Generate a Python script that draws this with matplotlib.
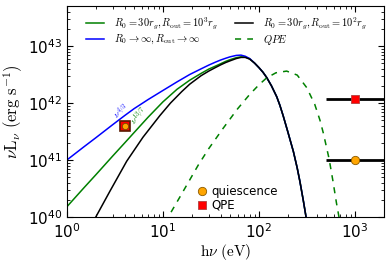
import numpy as np
import matplotlib
matplotlib.use("Agg")
import matplotlib.pyplot as plt

# energies (eV) and log10 nuLnu (erg/s)
E_inf = [1, 1.5, 2, 3, 4, 5, 7, 10, 14, 19, 25, 30, 35, 40, 45, 50, 58, 65, 72, 80,
         90, 100, 110, 120, 135, 153, 165, 179, 200, 228, 250, 267, 290, 309, 320]
L_inf = [41.0, 41.23, 41.39, 41.62, 41.78, 41.90, 42.06, 42.22, 42.37, 42.50, 42.60,
         42.665, 42.715, 42.755, 42.785, 42.81, 42.835, 42.84, 42.82, 42.78,
         42.70, 42.62, 42.54, 42.45, 42.30, 42.11, 41.96, 41.77, 41.49, 41.15,
         40.86, 40.62, 40.28, 40.0, 39.83]

E_1e3 = [1, 1.5, 2, 3, 4, 5, 7, 10, 14, 19, 25, 30, 35, 40, 45, 50, 58, 65, 72, 80,
         90, 100, 110, 120, 135, 153, 165, 179, 200, 228, 250, 267, 290, 309, 320]
L_1e3 = [40.18, 40.51, 40.74, 41.07, 41.30, 41.48, 41.75, 42.02, 42.24, 42.40, 42.52,
         42.595, 42.645, 42.69, 42.73, 42.76, 42.795, 42.81, 42.805, 42.775,
         42.70, 42.62, 42.54, 42.45, 42.30, 42.11, 41.96, 41.77, 41.49, 41.15,
         40.86, 40.62, 40.28, 40.0, 39.83]

E_1e2 = [1.8, 2.0, 2.8, 4.2, 6.2, 9.3, 12, 15.7, 19, 25, 30, 35, 40, 45, 50, 58, 65,
         72, 80, 90, 100, 110, 120, 135, 153, 165, 179, 200, 228, 250, 267, 290,
         309, 320]
L_1e2 = [39.86, 40.0, 40.45, 40.98, 41.40, 41.78, 42.00, 42.20, 42.33, 42.48, 42.56,
         42.62, 42.67, 42.71, 42.74, 42.78, 42.80, 42.80, 42.77, 42.70, 42.62,
         42.54, 42.45, 42.30, 42.11, 41.96, 41.77, 41.49, 41.15, 40.86, 40.62,
         40.28, 40.0, 39.83]

E_qpe = [10.5, 11.35, 15, 23.3, 30, 42.5, 60, 80, 100, 120, 150, 194, 250, 314,
         380, 431, 468, 537, 589, 640, 684, 720]
L_qpe = [39.9, 40.0, 40.35, 40.91, 41.2, 41.56, 41.90, 42.15, 42.32, 42.44, 42.53,
         42.56, 42.49, 42.27, 41.98, 41.70, 41.47, 41.02, 40.63, 40.25, 39.98, 39.75]

# observed points
E_obs_opt = 4.0
L_obs_opt = 3.9e41
E_xray = 1000.0
E_xray_lo = 500.0
E_xray_hi = 2000.0
L_xray_qui = 1.0e41
L_xray_qpe = 1.17e42

fig = plt.figure(figsize=(3.91, 2.65), dpi=100)
ax = fig.add_axes([0.171, 0.181, 0.811, 0.796])

l1, = ax.plot(E_1e3, 10 ** np.array(L_1e3), color="g", lw=1.1,
              label=r"$R_0=30r_g, R_{\rm out}=10^3r_g$")
l3, = ax.plot(E_inf, 10 ** np.array(L_inf), color="b", lw=1.1,
              label=r"$R_0\rightarrow\infty, R_{\rm out}\rightarrow\infty$")
l2, = ax.plot(E_1e2, 10 ** np.array(L_1e2), color="k", lw=1.1,
              label=r"$R_0=30r_g, R_{\rm out}=10^2r_g$")
l4, = ax.plot(E_qpe, 10 ** np.array(L_qpe), color="g", lw=1.1, ls=(0, (4, 4)),
              label=r"$QPE$")

xerr = [[E_xray - E_xray_lo], [E_xray_hi - E_xray]]
ax.errorbar([E_xray], [L_xray_qpe], xerr=xerr, fmt="none", ecolor="k", elinewidth=2)
ax.errorbar([E_xray], [L_xray_qui], xerr=xerr, fmt="none", ecolor="k", elinewidth=2)

ax.plot([E_obs_opt], [L_obs_opt], "s", color="red", mec="#5a1a00", ms=7, mew=1.2)
ax.plot([E_obs_opt], [L_obs_opt], "o", color="orange", mec="#7a4a00", ms=4.5, mew=0.6)
ax.plot([E_xray], [L_xray_qpe], "s", color="red", mec="#b04040", ms=6, mew=0.6)
ax.plot([E_xray], [L_xray_qui], "o", color="orange", mec="#8a5a00", ms=6, mew=0.6)

ax.set_xscale("log")
ax.set_yscale("log")
ax.set_xlim(1, 2000)
ax.set_ylim(1e40, 10 ** 43.7)
ax.tick_params(which="both", direction="in", top=True, right=True, labelsize=11)
ax.tick_params(which="major", length=4)
ax.tick_params(which="minor", length=2)

ax.set_xlabel(r"$\mathrm{h}\nu\ (\mathrm{eV})$", fontsize=11, math_fontfamily="cm",
              labelpad=1)
ax.set_ylabel(r"$\nu \mathrm{L}_\nu\ (\mathrm{erg\ s}^{-1})$", fontsize=12,
              math_fontfamily="cm", labelpad=2)

ax.text(3.65, 10 ** 41.86, r"$\nu^{4/3}$", color="b", fontsize=6.5, rotation=37,
        ha="center", va="center", math_fontfamily="cm")
ax.text(5.6, 10 ** 41.78, r"$\nu^{13/7}$", color="g", fontsize=6.5, rotation=45,
        ha="center", va="center", math_fontfamily="cm")

leg = ax.legend(handles=[l1, l3, l2, l4], ncol=2, loc="upper left",
                bbox_to_anchor=(0.03, 1.0), frameon=False, fontsize=7.5,
                handlelength=1.8, columnspacing=1.6, handletextpad=0.9,
                labelspacing=0.15)
for t in leg.get_texts():
    t.set_math_fontfamily("cm")
ax.add_artist(leg)

h1, = ax.plot([], [], "o", color="orange", mec="#8a5a00", ms=6, mew=0.6,
              label="quiescence")
h2, = ax.plot([], [], "s", color="red", mec="#b04040", ms=6, mew=0.6, label="QPE")
ax.legend(handles=[h1, h2], loc="lower left", bbox_to_anchor=(0.385, -0.015),
          frameon=False, fontsize=8.5, handlelength=0.8, handletextpad=0.4,
          labelspacing=0.1, borderpad=0.2)

fig.savefig("out.png", dpi=100)
